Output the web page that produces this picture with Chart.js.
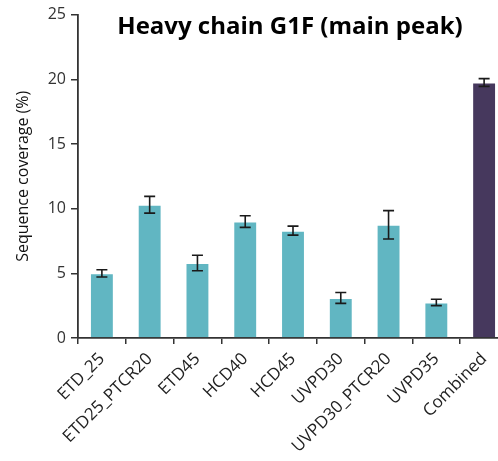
<!DOCTYPE html>
<html>
<head>
<meta charset="utf-8">
<script src="https://cdn.jsdelivr.net/npm/chart.js@4.4.1/dist/chart.umd.min.js"></script>
<style>
  html, body { margin: 0; padding: 0; overflow: hidden; background: #fff; }
  #wrap { width: 508px; height: 461px; }
</style>
</head>
<body>
<div id="wrap"><canvas id="myChart"></canvas></div>
<script>
const labels = ['ETD_25', 'ETD25_PTCR20', 'ETD45', 'HCD40', 'HCD45', 'UVPD30', 'UVPD30_PTCR20', 'UVPD35', 'Combined'];
const coverage = [5.0, 10.3, 5.8, 9.0, 8.3, 3.1, 8.75, 2.75, 19.75];
const errors = [0.28, 0.65, 0.6, 0.45, 0.35, 0.42, 1.1, 0.25, 0.3];
const barColors = ['#61b6c2', '#61b6c2', '#61b6c2', '#61b6c2', '#61b6c2', '#61b6c2', '#61b6c2', '#61b6c2', '#46385d'];

const errorBars = {
  id: 'errorBars',
  afterDatasetsDraw(chart) {
    const ctx = chart.ctx;
    const y = chart.scales.y;
    const meta = chart.getDatasetMeta(0);
    ctx.save();
    ctx.strokeStyle = '#1a1a1a';
    ctx.lineWidth = 1.6;
    meta.data.forEach((bar, i) => {
      const top = y.getPixelForValue(coverage[i] + errors[i]);
      const bot = y.getPixelForValue(coverage[i] - errors[i]);
      ctx.beginPath();
      ctx.moveTo(bar.x, top); ctx.lineTo(bar.x, bot);
      ctx.moveTo(bar.x - 5.5, top); ctx.lineTo(bar.x + 5.5, top);
      ctx.moveTo(bar.x - 5.5, bot); ctx.lineTo(bar.x + 5.5, bot);
      ctx.stroke();
    });
    ctx.restore();
  }
};

const titleText = {
  id: 'titleText',
  afterDraw(chart) {
    const ctx = chart.ctx;
    ctx.save();
    ctx.fillStyle = '#000';
    ctx.font = 'bold 24px "Open Sans"';
    ctx.textAlign = 'center';
    ctx.textBaseline = 'middle';
    ctx.fillText('Heavy chain G1F (main peak)', 290, 27);
    ctx.restore();
  }
};

var ctx = document.getElementById('myChart').getContext('2d');
var myChart = new Chart(ctx, {
  type: 'bar',
  data: {
    labels: labels,
    datasets: [{
      data: coverage,
      backgroundColor: barColors,
      borderColor: 'rgba(255,255,255,0.45)',
      borderWidth: 1,
      barPercentage: 0.5,
      categoryPercentage: 1
    }]
  },
  options: {
    responsive: true,
    maintainAspectRatio: false,
    animation: false,
    layout: { padding: { top: 13, left: 14, right: 0, bottom: 0 } },
    plugins: { legend: false, tooltip: { enabled: false } },
    scales: {
      x: {
        grid: { display: true, drawOnChartArea: false, offset: true, tickLength: 6, color: '#333', lineWidth: 1.5 },
        border: { color: '#333', width: 1.8 },
        ticks: {
          color: '#222',
          font: { family: 'Open Sans', size: 17 },
          maxRotation: 45, minRotation: 45,
          padding: 5
        },
        afterFit(scale) { scale.height = 123; }
      },
      y: {
        min: 0, max: 25,
        grid: { display: true, drawOnChartArea: false, tickLength: 7, color: '#333', lineWidth: 1.5 },
        border: { color: '#333', width: 1.8 },
        ticks: { stepSize: 5, color: '#333', font: { family: 'Open Sans', size: 16 }, padding: 5 },
        title: { display: true, text: 'Sequence coverage (%)', color: '#111', font: { family: 'Open Sans', size: 16 }, padding: { top: 0, bottom: 4 } },
        afterFit(scale) { scale.width = 64; }
      }
    }
  },
  plugins: [errorBars, titleText]
});
</script>
</body>
</html>
